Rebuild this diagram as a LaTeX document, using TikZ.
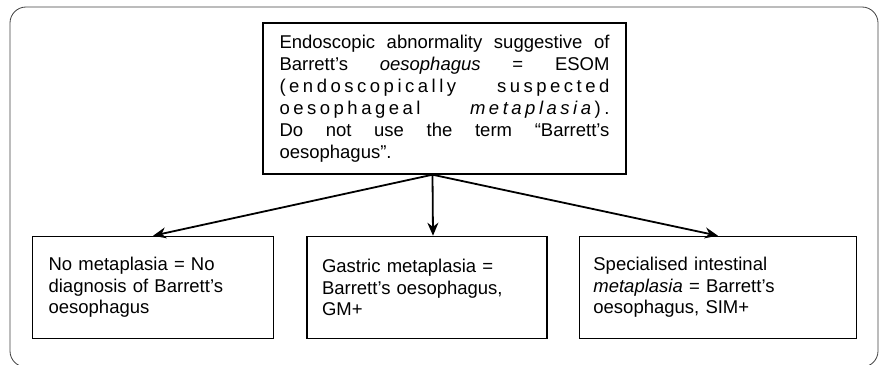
\documentclass[tikz,border=0pt]{standalone}
\usepackage{fontspec}
\setmainfont{Liberation Sans}
\usepackage{tikz}
\usetikzlibrary{arrows.meta,positioning,calc}

\begin{document}
\begin{tikzpicture}[x=1pt, y=1pt, >={Stealth[length=13pt,width=11pt]}]
    \tikzset{
        block/.style={draw, line width=1.4pt, rectangle, minimum height=151pt, minimum width=363pt, text width=330pt, inner sep=0pt, align=justify, font=\fontsize{18.5}{22}\selectfont},
        finding/.style={draw, line width=1.4pt, rectangle, minimum height=102pt, inner sep=0pt, align=left, font=\fontsize{18.5}{21.7}\selectfont},
        frame/.style={draw=black!75, line width=0.8pt, rounded corners=16pt},
        line/.style={draw, ->, line width=1.8pt}
    }
    \useasboundingbox (0,0) rectangle (880,-364);
    \draw [frame] (10,-7) rectangle (878,-367);

    \node [block] (esom) at (444.5,-98.5) {Endoscopic abnormality suggestive of\linebreak
        Barrett's \textit{oesophagus} = ESOM\linebreak
        {\addfontfeature{LetterSpace=19}(endoscopically suspected}\linebreak
        {\addfontfeature{LetterSpace=19}oesophageal \textit{metaplasia}).}\linebreak
        Do not use the term “Barrett's\linebreak
        oesophagus”.};
    \node [finding, minimum width=240pt, text width=210pt, below=61pt of esom, xshift=-17.5pt] (gastric) {Gastric metaplasia =\\Barrett's oesophagus,\\GM+};
    \node [finding, minimum width=241pt, text width=209pt, left=32pt of gastric] (nomet) {No metaplasia = No\\diagnosis of Barrett's\\oesophagus};
    \node [finding, minimum width=277pt, text width=249pt, right=31pt of gastric] (sim) {Specialised intestinal\\\textit{metaplasia} = Barrett's\\oesophagus, SIM+};

    \coordinate (fork) at ([xshift=-12pt]esom.south);
    \path [line] (fork) -- (nomet.north);
    \path [line] (fork) -- ([xshift=6pt]gastric.north);
    \path [line] (fork) -- (sim.north);
\end{tikzpicture}
\end{document}
